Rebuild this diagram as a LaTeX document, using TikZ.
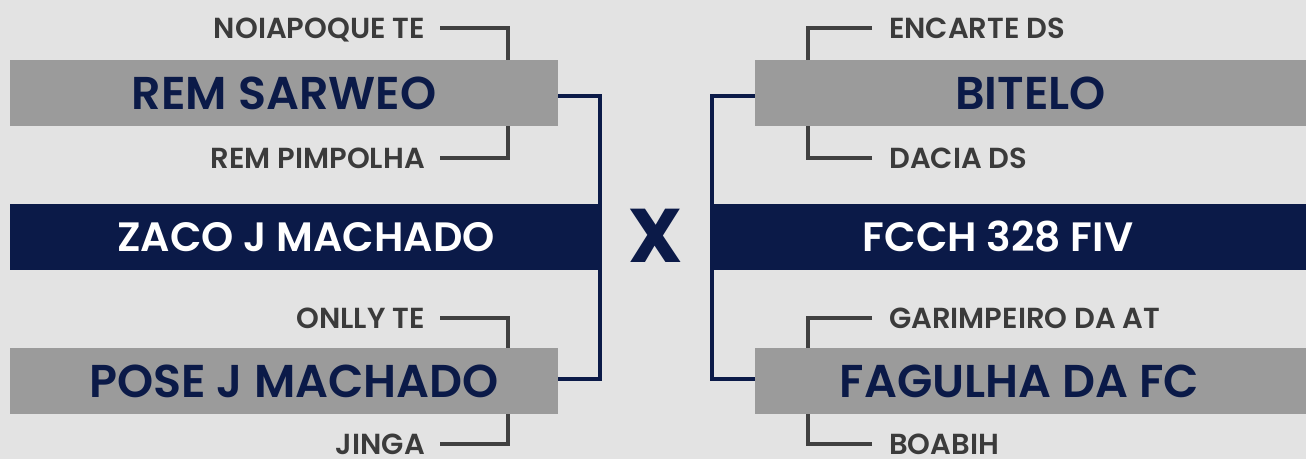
\documentclass[tikz,border=0pt]{standalone}
\usepackage{fontspec}
\setmainfont{Poppins}
\newfontfamily\pbold{Poppins SemiBold}
\newfontfamily\pxb{Poppins Bold}
\definecolor{bgc}{HTML}{E3E3E3}
\definecolor{boxgrey}{HTML}{9B9B9B}
\definecolor{navy}{HTML}{0B1A48}
\definecolor{labelgrey}{HTML}{3B3B3B}
\definecolor{brkgrey}{HTML}{404040}
\tikzset{
  greybox/.style={fill=boxgrey, inner sep=0pt, minimum width=548pt, minimum height=66pt,
    text=navy, font=\pbold\fontsize{46}{46}\selectfont, text height=32pt, text depth=0pt},
  navybox/.style={fill=navy, inner sep=0pt, minimum height=66pt,
    text=white, font=\pbold\fontsize{41}{41}\selectfont, text height=29pt, text depth=0pt},
  small/.style={inner sep=0pt, text=labelgrey, font=\pbold\fontsize{29}{29}\selectfont,
    text height=20pt, text depth=0pt},
  brk/.style={draw=brkgrey, line width=4pt},
  navyline/.style={draw=navy, line width=4pt},
}
\begin{document}
\begin{tikzpicture}[x=1pt,y=-1pt]
\fill[bgc] (0,0) rectangle (1306,459);
\useasboundingbox (0,0) rectangle (1306,459);
% left side
\node[greybox] (g1) at (284,93) {REM SARWEO};
\node[greybox] (g2) at (284,381) {\hspace*{20pt}POSE J MACHADO};
\node[navybox, minimum width=592pt] (n1) at (306,237) {ZACO J MACHADO};
% right side
\node[greybox, minimum width=551pt] (g3) at (1030.5,93) {BITELO};
\node[greybox, minimum width=551pt] (g4) at (1030.5,381) {FAGULHA DA FC\hspace*{22pt}};
\node[navybox, minimum width=596pt] (n2) at (1008,237) {FCCH 328 FIV\hspace*{20pt}};
% versus
\node[inner sep=0pt, text=navy, font=\pxb\fontsize{76}{76}\selectfont] (vs) at (656,236) {X};
% small labels left
\node[small, anchor=east] (l1) at (425,28) {NOIAPOQUE TE};
\node[small, anchor=east] (l2) at (425,158) {REM PIMPOLHA};
\node[small, anchor=east] (l3) at (425,318) {ONLLY TE};
\node[small, anchor=east] (l4) at (425,444) {JINGA};
% small labels right
\node[small, anchor=west] (r1) at (889,28) {ENCARTE DS};
\node[small, anchor=west] (r2) at (889,158) {DACIA DS};
\node[small, anchor=west] (r3) at (889,318) {GARIMPEIRO DA AT};
\node[small, anchor=west] (r4) at (889,444) {BOABIH};
% brackets left
\draw[brk] ([xshift=15pt]l1.east) -| ([xshift=224pt]g1.north);
\draw[brk] ([xshift=15pt]l2.east) -| ([xshift=224pt]g1.south);
\draw[brk] ([xshift=15pt]l3.east) -| ([xshift=224pt]g2.north);
\draw[brk] ([xshift=15pt]l4.east) -| ([xshift=224pt]g2.south);
% brackets right
\draw[brk] ([xshift=-17pt]r1.west) -| ([xshift=-222.5pt]g3.north);
\draw[brk] ([xshift=-17pt]r2.west) -| ([xshift=-222.5pt]g3.south);
\draw[brk] ([xshift=-17pt]r3.west) -| ([xshift=-222.5pt]g4.north);
\draw[brk] ([xshift=-17pt]r4.west) -| ([xshift=-222.5pt]g4.south);
% navy connectors
\draw[navyline] ([yshift=-3pt]g1.east) -- ++(42,0) |- ([yshift=2pt]g2.east);
\draw[navyline] ([yshift=-3pt]g3.west) -- ++(-43,0) |- ([yshift=2pt]g4.west);
\end{tikzpicture}
\end{document}
